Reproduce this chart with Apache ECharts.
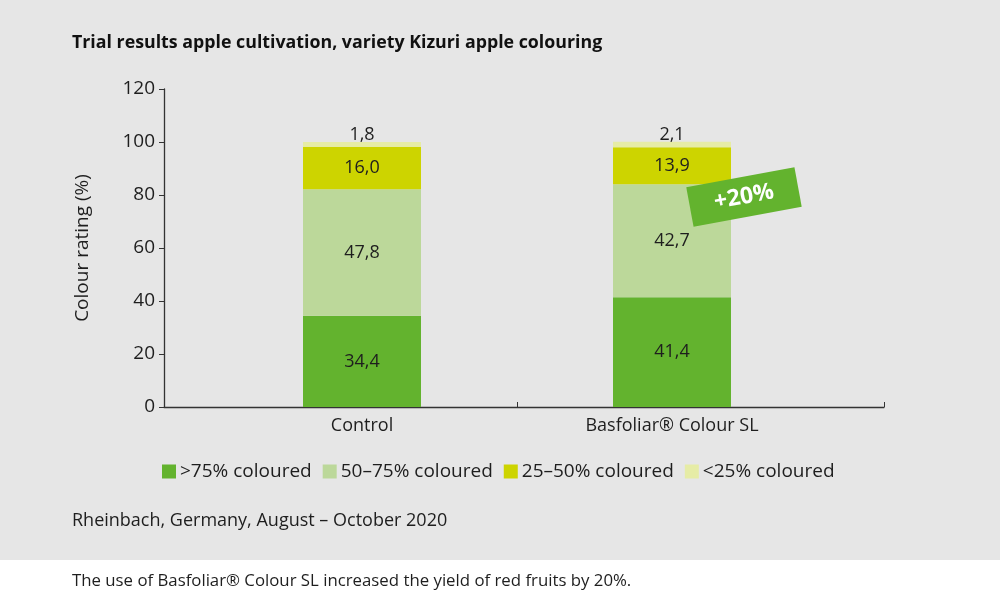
<!DOCTYPE html>
<html><head><meta charset="utf-8">
<script src="https://cdn.jsdelivr.net/npm/echarts@6/dist/echarts.min.js"></script>
<style>
html,body{margin:0;padding:0;background:#fff;}
#c{width:1000px;height:600px;background:linear-gradient(#e6e6e6 0,#e6e6e6 560px,#ffffff 560px,#ffffff 600px);}
</style>
</head><body><div id="c"></div>
<script>
// ---- data ----
const categories = ['Control', 'Basfoliar® Colour SL'];
const seriesNames = ['>75% coloured', '50–75% coloured', '25–50% coloured', '<25% coloured'];
const over75 = [34.4, 41.4];
const from50to75 = [47.8, 42.7];
const from25to50 = [16.0, 13.9];
const under25 = [1.8, 2.1];
const yMin = 0, yMax = 120, yStep = 20;
const badgeText = '+20%';
const titleText = 'Trial results apple cultivation, variety Kizuri apple colouring';
const yAxisTitle = 'Colour rating (%)';
const sourceText = 'Rheinbach, Germany, August – October 2020';
const noteText = 'The use of Basfoliar® Colour SL increased the yield of red fruits by 20%.';

// ---- style ----
const FONT = 'Open Sans';
const colors = ['#63b32e', '#bcd89a', '#cdd400', '#e6eca6'];
const ink = '#1e1e1e';
const fmt = v => v.toFixed(1).replace('.', ',');

const chart = echarts.init(document.getElementById('c'), null, {renderer: 'canvas'});
const seriesData = [over75, from50to75, from25to50, under25];

const series = seriesData.map((d, i) => ({
  name: seriesNames[i],
  type: 'bar',
  stack: 'total',
  xAxisIndex: 1,
  yAxisIndex: 1,
  barWidth: 118,
  itemStyle: {color: colors[i]},
  label: {
    show: true,
    position: i === 3 ? 'top' : 'inside',
    distance: -2,
    color: ink,
    fontFamily: FONT,
    fontSize: 18,
    formatter: p => fmt(p.value)
  },
  emphasis: {disabled: true},
  data: d
}));

chart.setOption({
  animation: false,
  backgroundColor: 'transparent',
  textStyle: {fontFamily: FONT},
  title: [
    {text: titleText, left: 67, top: 29, textStyle: {fontFamily: FONT, fontSize: 17.8, fontWeight: 'bold', color: '#111'}},
    {text: sourceText, left: 67, top: 507, textStyle: {fontFamily: FONT, fontSize: 18, fontWeight: 'normal', color: ink}},
    {text: noteText, left: 67, top: 568, textStyle: {fontFamily: FONT, fontSize: 16.8, fontWeight: 'normal', color: ink}}
  ],
  legend: {
    left: 157, top: 457,
    icon: 'rect', itemWidth: 14, itemHeight: 14, itemGap: 11,
    textStyle: {fontFamily: FONT, fontSize: 19, color: ink, padding: [0, 0, 0, -1]},
    selectedMode: false,
    data: seriesNames
  },
  grid: [
    {left: 164, right: 116, top: 89, bottom: 193},
    {left: 207, right: 173, top: 89, bottom: 193}
  ],
  xAxis: [
    {gridIndex: 0, type: 'value', min: 0, max: 1,
     axisLine: {show: true, lineStyle: {color: '#333', width: 1.3}},
     axisTick: {show: true, inside: true, length: 5, lineStyle: {color: '#333'}, customValues: [0.49, 1]},
     axisLabel: {show: false}, splitLine: {show: false}},
    {gridIndex: 1, type: 'category', data: categories,
     axisLine: {show: false}, axisTick: {show: false},
     axisLabel: {color: ink, fontFamily: FONT, fontSize: 18, margin: 10}}
  ],
  yAxis: [
    {gridIndex: 0, type: 'value', min: yMin, max: yMax, interval: yStep,
     name: yAxisTitle, nameLocation: 'middle', nameGap: 72, nameRotate: 90,
     nameTextStyle: {fontFamily: FONT, fontSize: 19, color: ink},
     axisLine: {show: true, lineStyle: {color: '#333', width: 1.3}},
     axisTick: {show: true, length: 5, lineStyle: {color: '#333'}},
     axisLabel: {color: ink, fontFamily: FONT, fontSize: 19, margin: 9},
     splitLine: {show: false}},
    {gridIndex: 1, type: 'value', min: yMin, max: yMax, interval: yStep, show: false}
  ],
  graphic: [{
    type: 'group',
    x: 744, y: 197,
    z: 100,
    rotation: 10.5 * Math.PI / 180,
    children: [
      {type: 'rect', z: 100, shape: {x: -55, y: -20, width: 110, height: 40}, style: {fill: '#63b32e'}},
      {type: 'text', z: 101, style: {text: badgeText, x: 0, y: 0, align: 'center', verticalAlign: 'middle',
        fill: '#fff', font: 'bold 23px "Open Sans"'}}
    ]
  }],
  series: series
});
</script>
</body></html>
